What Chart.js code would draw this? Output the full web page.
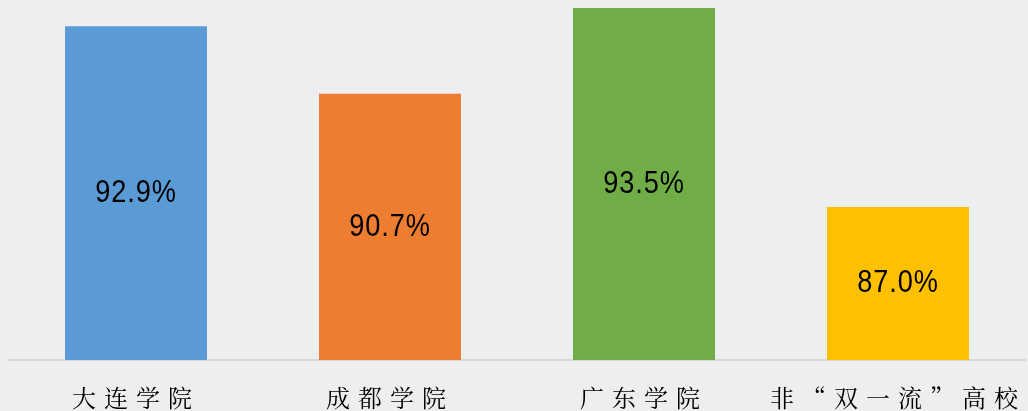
<!DOCTYPE html>
<html><head><meta charset="utf-8">
<script src="https://cdn.jsdelivr.net/npm/chart.js@4"></script>
<style>html,body{margin:0;padding:0;background:#edeef0;}canvas{display:block;}</style>
</head><body>
<canvas id="c" width="1028" height="411"></canvas>
<script>
const categories = ["大连学院", "成都学院", "广东学院", "非“双一流”高校"];
const values = [92.9, 90.7, 93.5, 87.0];
const valueLabels = ["92.9%", "90.7%", "93.5%", "87.0%"];
const colors = ["#5b9bd5", "#ed7d31", "#70ad47", "#ffc000"];

const bg = {
  id: 'bgAndLabels',
  beforeDraw(chart) {
    const ctx = chart.ctx;
    ctx.save();
    ctx.fillStyle = '#edeef0';
    ctx.fillRect(0, 0, chart.width, chart.height);
    ctx.restore();
    ctx.letterSpacing = '8px';
  },
  beforeDatasetsDraw(chart) { chart.ctx.letterSpacing = '0px'; },
  afterDraw(chart) {
    const ctx = chart.ctx;
    const xs = chart.scales.x, ys = chart.scales.y;
    for (let i = 0; i < values.length; i++) {
      const x = xs.getPixelForValue(i);
      const top = ys.getPixelForValue(values[i]);
      const base = ys.bottom;
      ctx.save();
      ctx.translate(x, (top + base) / 2);
      ctx.scale(0.85, 1);
      ctx.letterSpacing = '1px';
      ctx.fillStyle = '#000000';
      ctx.font = '32px sans-serif';
      ctx.textAlign = 'center';
      ctx.textBaseline = 'middle';
      ctx.fillText(valueLabels[i], 0, 0);
      ctx.restore();
    }
  }
};

new Chart(document.getElementById('c'), {
  type: 'bar',
  data: {
    labels: categories,
    datasets: [{ data: values, backgroundColor: colors, barPercentage: 1, categoryPercentage: 0.559 }]
  },
  options: {
    responsive: false,
    animation: false,
    layout: { padding: { left: 9, right: 3, top: 0, bottom: 0 } },
    plugins: { legend: { display: false }, tooltip: { enabled: false } },
    scales: {
      y: { display: false, min: 82, max: 93.76 },
      x: {
        grid: { display: false },
        border: { display: true, color: '#d6d7d9', width: 2 },
        afterFit(scale) { scale.height = 51; },
        ticks: {
          color: '#000',
          padding: 15,
          font: { family: '"Noto Serif CJK SC", "AR PL UKai CN", "Noto Sans CJK SC", serif', size: 24, lineHeight: 1.2 }
        }
      }
    }
  },
  plugins: [bg]
});
</script>
</body></html>
